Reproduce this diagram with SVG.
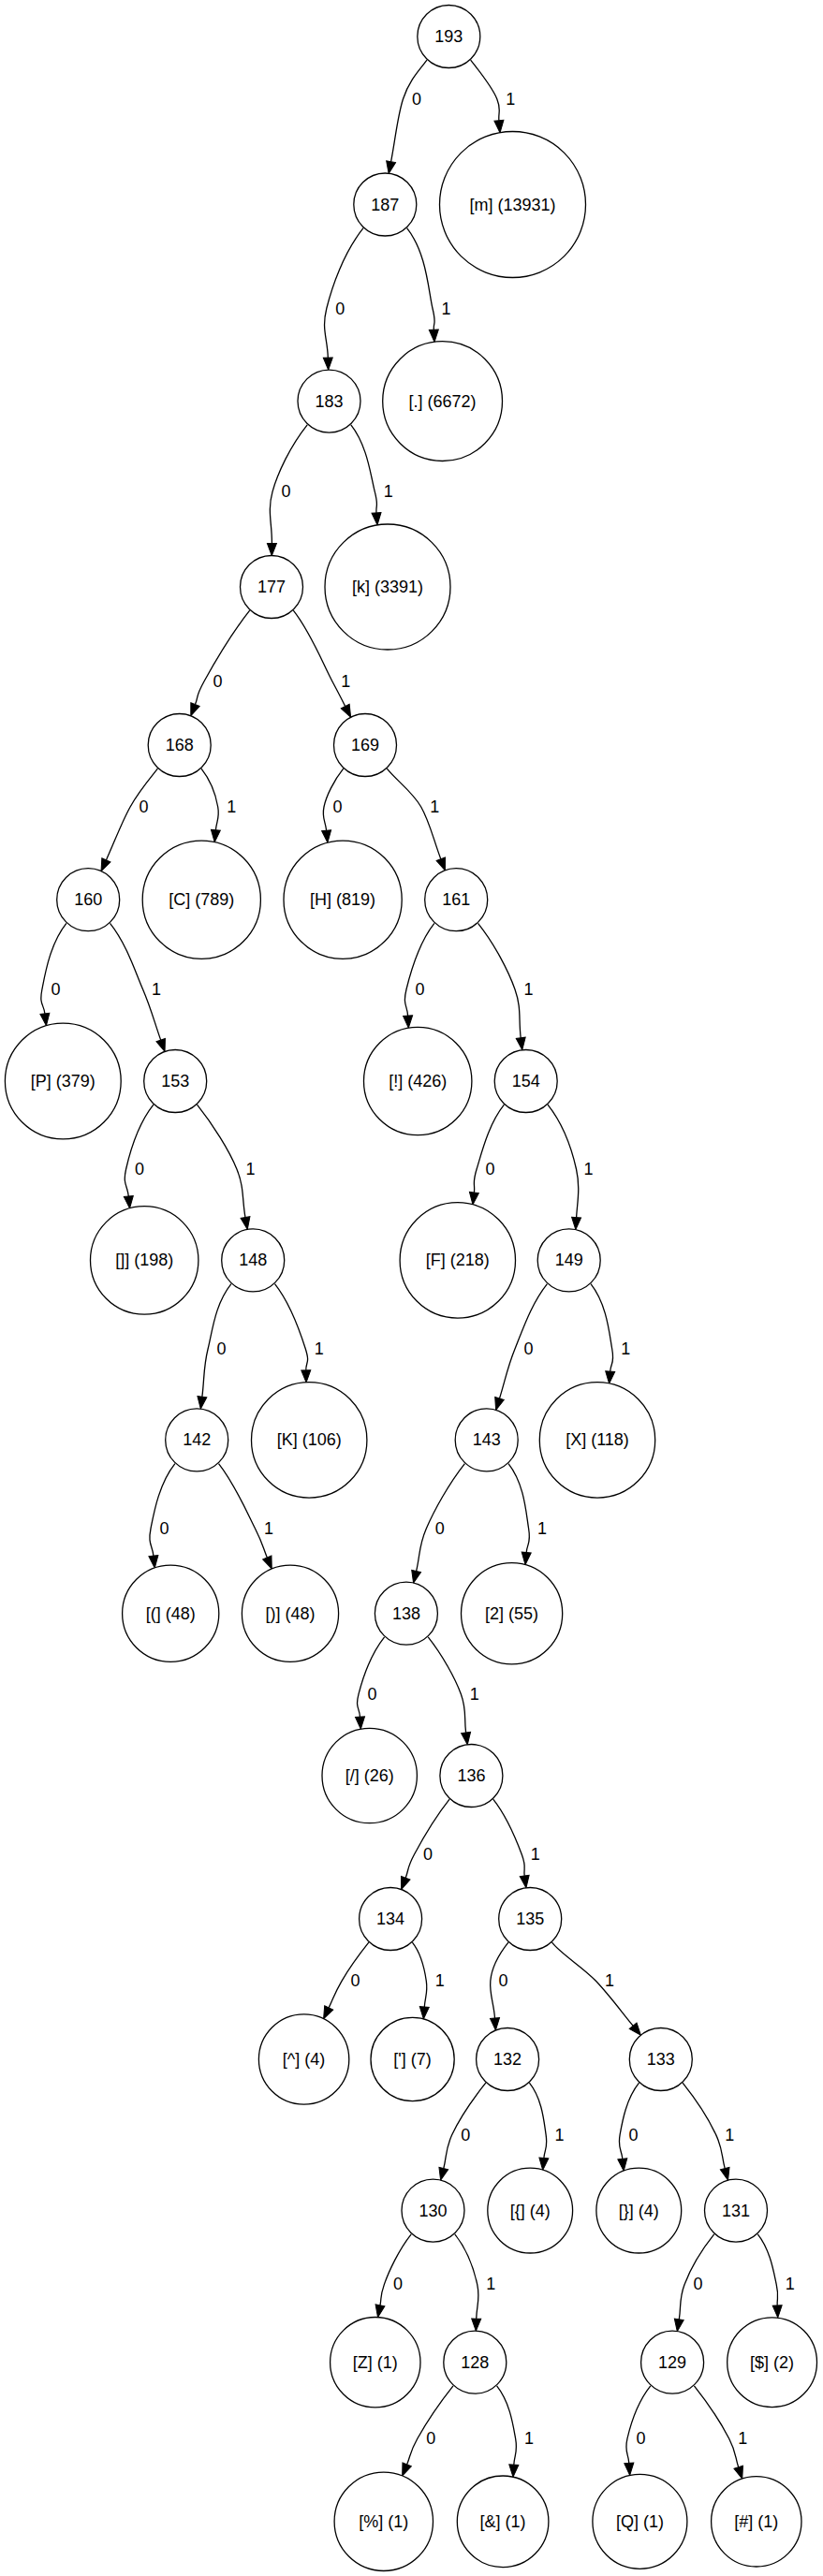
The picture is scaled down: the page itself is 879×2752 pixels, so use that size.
<svg xmlns="http://www.w3.org/2000/svg" width="879" height="2752" viewBox="0 0 879 2752">
<defs>
<style>
.n circle{fill:#fff;stroke:#000;stroke-width:1.3}
.n text,.lb{font-family:"Liberation Sans",Arial,sans-serif;font-size:18px;fill:#000;text-anchor:middle}
.e path{fill:none;stroke:#000;stroke-width:1.3;marker-end:url(#ah)}
</style>
<marker id="ah" viewBox="0 0 13 10" refX="0" refY="5" markerWidth="13" markerHeight="10" markerUnits="userSpaceOnUse" orient="auto" overflow="visible">
<path d="M0,0 L13,5 L0,10 z" fill="#000" stroke="#000" stroke-width="1"/>
</marker>
</defs>
<rect width="879" height="2752" fill="#fff"/>
<g id="edges" class="e">
<path d="M456,64.2 C445.7,77.1 436.4,87.5 430.5,105.7 S422.6,146.3 417.6,172.7"/>
<path d="M502.6,64.2 C512.9,77.1 526.1,94.1 530.8,105.7 S532.1,119.6 532.9,128.8"/>
<path d="M388,243.7 C366.7,270.5 354.4,306.8 348.8,329.5 S349.7,361.1 350.3,382.1"/>
<path d="M434.6,243.7 C455.9,270.5 457.6,311.3 462,329.5 S462.8,343.2 463.3,352.3"/>
<path d="M328.2,453.8 C310.5,476.1 296.7,504.4 291,525.4 S290.6,558.5 290.4,580.5"/>
<path d="M374.8,453.8 C392.5,476.1 396.1,509.3 400.3,525.4 S401.3,538.9 402,547.9"/>
<path d="M266.7,652.2 C248,675.8 227.5,710.8 218.1,727.7 S212.1,743.3 208.5,752.6"/>
<path d="M313.3,652.2 C332,675.8 345.6,710.6 354.8,727.7 S363.8,745 368.7,754.6"/>
<path d="M168.4,821.2 C158.3,833.9 148.2,845.6 139.1,862 S122.8,898.1 113.4,918.9"/>
<path d="M215,821.2 C225.1,833.9 230.6,850.2 232.7,862 S231.3,876.8 230.4,886.7"/>
<path d="M366.7,821.2 C356.6,833.9 348.5,850.1 346,862 S347.6,877.2 348.6,887.3"/>
<path d="M413.3,821.2 C423.4,833.9 440.4,845.7 449.7,862 S462.9,896.8 470.8,917.7"/>
<path d="M70.9,986.4 C53.4,1008.4 48.1,1040.6 44.9,1057 S46.7,1072.6 47.9,1082.8"/>
<path d="M117.5,986.4 C135,1008.4 143.8,1036.4 152.6,1057 S164.5,1090.7 171.7,1111.1"/>
<path d="M463.9,986.4 C446.4,1008.4 438.1,1040.2 434,1057 S435,1073.9 435.6,1085.1"/>
<path d="M510.5,986.4 C528,1008.4 542.9,1036.7 550,1057 S553.7,1088.2 556.2,1108.8"/>
<path d="M163.9,1180.2 C146.8,1201.7 138.4,1232.4 134.6,1249 S136.2,1266.4 137.3,1278"/>
<path d="M210.5,1180.2 C227.6,1201.7 244.8,1229 252.9,1249 S258.4,1280.3 262,1300.6"/>
<path d="M538.4,1180.2 C521.3,1201.7 514.1,1233 509.1,1249 S507.5,1264.1 506.4,1274"/>
<path d="M585,1180.2 C602.1,1201.7 611,1229 615.5,1249 S616.5,1285 615.6,1300.6"/>
<path d="M246.9,1371.6 C229.7,1393.3 227,1421 222.1,1441 S218.4,1471.8 215.9,1492.2"/>
<path d="M293.5,1371.6 C310.7,1393.3 321.3,1425.2 326.3,1441 S326.6,1454.7 326.8,1463.8"/>
<path d="M584.4,1371.6 C567.2,1393.3 558.2,1420.8 550,1441 S539.8,1473.8 533.5,1494"/>
<path d="M631,1371.6 C648.2,1393.3 650.8,1425 653.7,1441 S652.5,1455.5 651.7,1465.1"/>
<path d="M186.9,1563.6 C169.7,1585.3 164.3,1616.3 161,1633 S162.7,1650.6 163.9,1662.1"/>
<path d="M233.5,1563.6 C250.7,1585.3 264,1616.1 272.5,1633 S280.6,1652.5 285.3,1664"/>
<path d="M496.4,1563.6 C479.2,1585.3 463.5,1613.9 455.3,1633 S448.8,1660.8 444.6,1678.5"/>
<path d="M543,1563.6 C560.2,1585.3 561.9,1616.8 564.6,1633 S563.1,1648.4 562.2,1658.6"/>
<path d="M410.6,1748.9 C395.5,1767.9 386.8,1795.1 383,1809.8 S383.9,1824.4 384.5,1834.2"/>
<path d="M457.2,1748.9 C472.3,1767.9 486,1792.6 492.3,1809.8 S495.5,1834.6 497.6,1850.9"/>
<path d="M480.1,1922.2 C465.5,1940.6 450.1,1966.9 442.4,1981.3 S436.7,1996.9 433.2,2006.3"/>
<path d="M526.7,1922.2 C541.3,1940.6 552,1967.1 557.3,1981.3 S559,1995 560.2,2003.9"/>
<path d="M393.8,2075.2 C383.6,2088 372.2,2104.1 365,2116.3 S356.1,2134.6 351.2,2144.9"/>
<path d="M440.4,2075.2 C450.6,2088 453.5,2104 455.3,2116.3 S454.1,2132.9 453.3,2144"/>
<path d="M542.9,2075.2 C532.7,2088 525,2102.5 523.8,2116.3 S527.5,2141 528.5,2156"/>
<path d="M589.5,2075.2 C599.7,2088 622.2,2101.4 636.4,2116.3 S663.9,2149.4 676.1,2164.2"/>
<path d="M518.8,2225.2 C505,2242.5 490,2265 482.8,2280.6 S477.3,2302.5 473.8,2316.5"/>
<path d="M565.4,2225.2 C579.2,2242.5 581,2266.6 583.1,2280.6 S581.8,2295.5 580.9,2305.4"/>
<path d="M682.5,2225.2 C668.7,2242.5 664.6,2266.5 662.1,2280.6 S663.7,2296 664.8,2306.3"/>
<path d="M729.1,2225.2 C742.9,2242.5 757.4,2265 764.7,2280.6 S770.5,2302.7 774.2,2316.6"/>
<path d="M439.2,2386.8 C425.9,2403.5 415,2427 410.4,2440.4 S407.7,2454 406,2462.8"/>
<path d="M485.8,2386.8 C499.1,2403.5 506.3,2424.9 509.7,2440.4 S509.1,2462.5 508.7,2477.2"/>
<path d="M762.7,2386.8 C749.4,2403.5 737,2424.8 731.1,2440.4 S727.6,2463 725.3,2477.8"/>
<path d="M809.3,2386.8 C822.6,2403.5 826.3,2427 829.2,2440.4 S829.8,2453.9 830.2,2462.9"/>
<path d="M484,2548.9 C470,2566.5 453.9,2590.8 445.8,2605.2 S438.8,2622.6 434.6,2632.9"/>
<path d="M530.6,2548.9 C544.6,2566.5 548,2590.6 550.6,2605.2 S549.5,2622 548.8,2633.2"/>
<path d="M694.8,2548.9 C680.8,2566.5 673.3,2590.9 670,2605.2 S671.1,2620.9 671.8,2631.4"/>
<path d="M741.4,2548.9 C755.4,2566.5 771,2590.3 778.7,2605.2 S784.9,2624.1 788.7,2635.7"/>
</g>
<g id="edge-labels">
<text class="lb" x="445" y="111.7">0</text>
<text class="lb" x="545.3" y="111.7">1</text>
<text class="lb" x="363.3" y="335.5">0</text>
<text class="lb" x="476.5" y="335.5">1</text>
<text class="lb" x="305.5" y="531.4">0</text>
<text class="lb" x="414.8" y="531.4">1</text>
<text class="lb" x="232.6" y="733.7">0</text>
<text class="lb" x="369.3" y="733.7">1</text>
<text class="lb" x="153.6" y="868">0</text>
<text class="lb" x="247.2" y="868">1</text>
<text class="lb" x="360.5" y="868">0</text>
<text class="lb" x="464.2" y="868">1</text>
<text class="lb" x="59.4" y="1063">0</text>
<text class="lb" x="167.1" y="1063">1</text>
<text class="lb" x="448.5" y="1063">0</text>
<text class="lb" x="564.5" y="1063">1</text>
<text class="lb" x="149.1" y="1255">0</text>
<text class="lb" x="267.4" y="1255">1</text>
<text class="lb" x="523.6" y="1255">0</text>
<text class="lb" x="628.4" y="1255">1</text>
<text class="lb" x="236.6" y="1447">0</text>
<text class="lb" x="340.8" y="1447">1</text>
<text class="lb" x="564.5" y="1447">0</text>
<text class="lb" x="668.2" y="1447">1</text>
<text class="lb" x="175.5" y="1639">0</text>
<text class="lb" x="287" y="1639">1</text>
<text class="lb" x="469.8" y="1639">0</text>
<text class="lb" x="579.1" y="1639">1</text>
<text class="lb" x="397.5" y="1815.8">0</text>
<text class="lb" x="506.8" y="1815.8">1</text>
<text class="lb" x="456.9" y="1987.3">0</text>
<text class="lb" x="571.8" y="1987.3">1</text>
<text class="lb" x="379.5" y="2122.3">0</text>
<text class="lb" x="469.8" y="2122.3">1</text>
<text class="lb" x="537.6" y="2122.3">0</text>
<text class="lb" x="650.9" y="2122.3">1</text>
<text class="lb" x="497.3" y="2286.6">0</text>
<text class="lb" x="597.6" y="2286.6">1</text>
<text class="lb" x="676.6" y="2286.6">0</text>
<text class="lb" x="779.2" y="2286.6">1</text>
<text class="lb" x="424.9" y="2446.4">0</text>
<text class="lb" x="524.2" y="2446.4">1</text>
<text class="lb" x="745.6" y="2446.4">0</text>
<text class="lb" x="843.7" y="2446.4">1</text>
<text class="lb" x="460.3" y="2611.2">0</text>
<text class="lb" x="565.1" y="2611.2">1</text>
<text class="lb" x="684.5" y="2611.2">0</text>
<text class="lb" x="793.2" y="2611.2">1</text>
</g>
<g id="n193" class="n"><circle cx="479.3" cy="39" r="33.5"/><text x="479.3" y="45">193</text></g>
<g id="n187" class="n"><circle cx="411.3" cy="218.5" r="33.5"/><text x="411.3" y="224.5">187</text></g>
<g id="n183" class="n"><circle cx="351.5" cy="428.6" r="33.5"/><text x="351.5" y="434.6">183</text></g>
<g id="n177" class="n"><circle cx="290" cy="627" r="33.5"/><text x="290" y="633">177</text></g>
<g id="n168" class="n"><circle cx="191.7" cy="796" r="33.5"/><text x="191.7" y="802">168</text></g>
<g id="n169" class="n"><circle cx="390" cy="796" r="33.5"/><text x="390" y="802">169</text></g>
<g id="n160" class="n"><circle cx="94.2" cy="961.2" r="33.5"/><text x="94.2" y="967.2">160</text></g>
<g id="n161" class="n"><circle cx="487.2" cy="961.2" r="33.5"/><text x="487.2" y="967.2">161</text></g>
<g id="n153" class="n"><circle cx="187.2" cy="1155" r="33.5"/><text x="187.2" y="1161">153</text></g>
<g id="n154" class="n"><circle cx="561.7" cy="1155" r="33.5"/><text x="561.7" y="1161">154</text></g>
<g id="n148" class="n"><circle cx="270.2" cy="1346.4" r="33.5"/><text x="270.2" y="1352.4">148</text></g>
<g id="n149" class="n"><circle cx="607.7" cy="1346.4" r="33.5"/><text x="607.7" y="1352.4">149</text></g>
<g id="n142" class="n"><circle cx="210.2" cy="1538.4" r="33.5"/><text x="210.2" y="1544.4">142</text></g>
<g id="n143" class="n"><circle cx="519.7" cy="1538.4" r="33.5"/><text x="519.7" y="1544.4">143</text></g>
<g id="n138" class="n"><circle cx="433.9" cy="1723.7" r="33.5"/><text x="433.9" y="1729.7">138</text></g>
<g id="n136" class="n"><circle cx="503.4" cy="1897" r="33.5"/><text x="503.4" y="1903">136</text></g>
<g id="n134" class="n"><circle cx="417.1" cy="2050" r="33.5"/><text x="417.1" y="2056">134</text></g>
<g id="n135" class="n"><circle cx="566.2" cy="2050" r="33.5"/><text x="566.2" y="2056">135</text></g>
<g id="n132" class="n"><circle cx="542.1" cy="2200" r="33.5"/><text x="542.1" y="2206">132</text></g>
<g id="n133" class="n"><circle cx="705.8" cy="2200" r="33.5"/><text x="705.8" y="2206">133</text></g>
<g id="n130" class="n"><circle cx="462.5" cy="2361.6" r="33.5"/><text x="462.5" y="2367.6">130</text></g>
<g id="n131" class="n"><circle cx="786" cy="2361.6" r="33.5"/><text x="786" y="2367.6">131</text></g>
<g id="n128" class="n"><circle cx="507.3" cy="2523.7" r="33.5"/><text x="507.3" y="2529.7">128</text></g>
<g id="n129" class="n"><circle cx="718.1" cy="2523.7" r="33.5"/><text x="718.1" y="2529.7">129</text></g>
<g id="leaf-m" class="n"><circle cx="547.5" cy="218.5" r="78"/><text x="547.5" y="224.5">[m] (13931)</text></g>
<g id="leaf-dot" class="n"><circle cx="472.6" cy="428.6" r="63.9"/><text x="472.6" y="434.6">[.] (6672)</text></g>
<g id="leaf-k" class="n"><circle cx="414" cy="627" r="67"/><text x="414" y="633">[k] (3391)</text></g>
<g id="leaf-C" class="n"><circle cx="215.3" cy="961.2" r="63.1"/><text x="215.3" y="967.2">[C] (789)</text></g>
<g id="leaf-H" class="n"><circle cx="366.1" cy="961.2" r="63.1"/><text x="366.1" y="967.2">[H] (819)</text></g>
<g id="leaf-P" class="n"><circle cx="67.3" cy="1155" r="61.9"/><text x="67.3" y="1161">[P] (379)</text></g>
<g id="leaf-excl" class="n"><circle cx="446.2" cy="1155" r="57.7"/><text x="446.2" y="1161">[!] (426)</text></g>
<g id="leaf-rbracket" class="n"><circle cx="154.2" cy="1346.4" r="57.7"/><text x="154.2" y="1352.4">[]] (198)</text></g>
<g id="leaf-F" class="n"><circle cx="488.8" cy="1346.4" r="61.7"/><text x="488.8" y="1352.4">[F] (218)</text></g>
<g id="leaf-K" class="n"><circle cx="330.2" cy="1538.4" r="61.7"/><text x="330.2" y="1544.4">[K] (106)</text></g>
<g id="leaf-X" class="n"><circle cx="638" cy="1538.4" r="61.7"/><text x="638" y="1544.4">[X] (118)</text></g>
<g id="leaf-lparen" class="n"><circle cx="182.2" cy="1723.7" r="51.6"/><text x="182.2" y="1729.7">[(] (48)</text></g>
<g id="leaf-rparen" class="n"><circle cx="310" cy="1723.7" r="51.6"/><text x="310" y="1729.7">[)] (48)</text></g>
<g id="leaf-2" class="n"><circle cx="546.6" cy="1723.7" r="54.1"/><text x="546.6" y="1729.7">[2] (55)</text></g>
<g id="leaf-slash" class="n"><circle cx="394.7" cy="1897" r="50.7"/><text x="394.7" y="1903">[/] (26)</text></g>
<g id="leaf-caret" class="n"><circle cx="324.6" cy="2200" r="48.2"/><text x="324.6" y="2206">[^] (4)</text></g>
<g id="leaf-apos" class="n"><circle cx="440.6" cy="2200" r="44.6"/><text x="440.6" y="2206">['] (7)</text></g>
<g id="leaf-lbrace" class="n"><circle cx="566.2" cy="2361.6" r="45.4"/><text x="566.2" y="2367.6">[{] (4)</text></g>
<g id="leaf-rbrace" class="n"><circle cx="682.3" cy="2361.6" r="45.4"/><text x="682.3" y="2367.6">[}] (4)</text></g>
<g id="leaf-Z" class="n"><circle cx="400.8" cy="2523.7" r="48.2"/><text x="400.8" y="2529.7">[Z] (1)</text></g>
<g id="leaf-dollar" class="n"><circle cx="824.6" cy="2523.7" r="47.9"/><text x="824.6" y="2529.7">[$] (2)</text></g>
<g id="leaf-pct" class="n"><circle cx="409.8" cy="2693.8" r="52.7"/><text x="409.8" y="2699.8">[%] (1)</text></g>
<g id="leaf-amp" class="n"><circle cx="537.1" cy="2693.8" r="48.8"/><text x="537.1" y="2699.8">[&amp;] (1)</text></g>
<g id="leaf-Q" class="n"><circle cx="683.4" cy="2693.8" r="50.5"/><text x="683.4" y="2699.8">[Q] (1)</text></g>
<g id="leaf-hash" class="n"><circle cx="807.8" cy="2693.8" r="48.2"/><text x="807.8" y="2699.8">[#] (1)</text></g>
</svg>
